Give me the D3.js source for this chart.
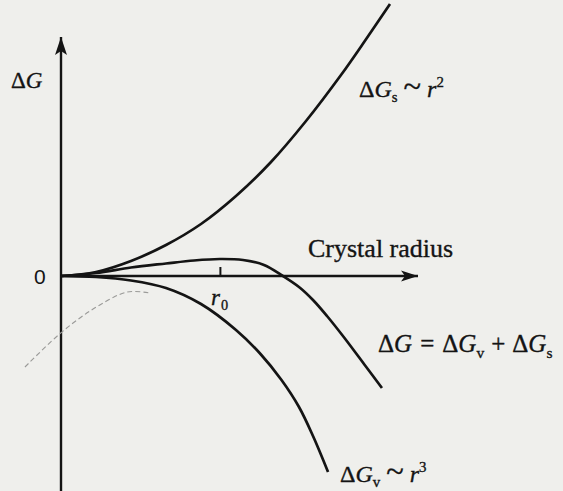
<!DOCTYPE html>
<html>
<head>
<meta charset="utf-8">
<script src="https://cdn.jsdelivr.net/npm/d3@7"></script>
<style>
  html, body { margin: 0; padding: 0; background: #efefec; }
  svg { display: block; }
  .lbl { font-family: "Liberation Serif", "DejaVu Serif", serif; fill: #141414; stroke: #141414; stroke-width: 0.35; }
  .zero { font-family: "Liberation Sans", Arial, sans-serif; fill: #141414; }
</style>
</head>
<body>
<svg id="chart" width="563" height="491"></svg>
<script>
// values: r (crystal radius, arbitrary units), g (free energy change)
const surfaceR = [0, 0.1, 0.2, 0.3, 0.4, 0.5, 0.6, 0.7, 0.8, 0.87, 0.94]
const surfaceG = [0, 0.04, 0.15, 0.31, 0.52, 0.8, 1.14, 1.55, 2.01, 2.36, 2.72]

const volumeR = [0, 0.1, 0.2, 0.3, 0.4, 0.5, 0.57, 0.63, 0.68, 0.72, 0.763]
const volumeG = [0, -0.01, -0.045, -0.12, -0.28, -0.54, -0.78, -1.04, -1.31, -1.6, -1.96]

const totalR = [0, 0.1, 0.2, 0.3, 0.38, 0.454, 0.52, 0.58, 0.634, 0.68, 0.72, 0.76, 0.81, 0.87, 0.917]
const totalG = [0, 0.03, 0.085, 0.125, 0.155, 0.17, 0.16, 0.11, 0.0, -0.11, -0.24, -0.4, -0.62, -0.9, -1.12]

// faint print-through from the other side of the page
const ghostR = [-0.103, -0.017, 0.046, 0.111, 0.189, 0.254]
const ghostG = [-0.91, -0.62, -0.44, -0.29, -0.16, -0.17]

const r0 = 0.454
const xAxisEnd = 1.02
const yAxisTop = 2.39

const svg = d3.select(`#chart`)
const height = 491

const x = d3.scaleLinear().domain([0, 1]).range([61, 411])
const y = d3.scaleLinear().domain([0, 1]).range([276, 176])

const ink = `#141414`

const defs = svg.append(`defs`)
defs.append(`marker`)
  .attr(`id`, `arrowUp`)
  .attr(`markerUnits`, `userSpaceOnUse`)
  .attr(`viewBox`, `-7 0 14 20`)
  .attr(`refX`, 0).attr(`refY`, 0)
  .attr(`markerWidth`, 14).attr(`markerHeight`, 20)
  .attr(`orient`, `0`)
  .append(`path`)
  .attr(`d`, `M0,0 L6,18 L0,14 L-6,18 Z`)
  .attr(`fill`, ink)

defs.append(`marker`)
  .attr(`id`, `arrowRight`)
  .attr(`markerUnits`, `userSpaceOnUse`)
  .attr(`viewBox`, `-18 -6 18 12`)
  .attr(`refX`, 0).attr(`refY`, 0)
  .attr(`markerWidth`, 18).attr(`markerHeight`, 12)
  .attr(`orient`, `0`)
  .append(`path`)
  .attr(`d`, `M0,0 L-17,-5.5 L-13,0 L-17,5.5 Z`)
  .attr(`fill`, ink)

// axes
svg.append(`line`)
  .attr(`x1`, x(0)).attr(`y1`, height)
  .attr(`x2`, x(0)).attr(`y2`, y(yAxisTop))
  .attr(`stroke`, ink).attr(`stroke-width`, 2.4)
  .attr(`marker-end`, `url(#arrowUp)`)

svg.append(`line`)
  .attr(`x1`, x(0)).attr(`y1`, y(0))
  .attr(`x2`, x(xAxisEnd)).attr(`y2`, y(0))
  .attr(`stroke`, ink).attr(`stroke-width`, 2.4)
  .attr(`marker-end`, `url(#arrowRight)`)

const tick = svg.append(`g`)
  .attr(`transform`, `translate(0,${y(0)})`)
  .call(d3.axisBottom(x).tickValues([r0]).tickSize(-9).tickFormat(``))
tick.select(`.domain`).remove()
tick.selectAll(`line`).attr(`stroke`, ink).attr(`stroke-width`, 2)

// curves
const line = d3.line()
  .x((d) => x(d[0]))
  .y((d) => y(d[1]))
  .curve(d3.curveCatmullRom.alpha(0.5))

function draw(rs, gs, opts = {}) {
  svg.append(`path`)
    .attr(`d`, line(d3.zip(rs, gs)))
    .attr(`fill`, `none`)
    .attr(`stroke`, opts.color || ink)
    .attr(`stroke-width`, opts.width || 2.7)
    .attr(`stroke-dasharray`, opts.dash || null)
}

draw(ghostR, ghostG, { color: `#9a9a98`, width: 1.1, dash: `5 3` })
draw(surfaceR, surfaceG)
draw(volumeR, volumeG)
draw(totalR, totalG)

// labels
function label(px, py, parts, size, cls = `lbl`) {
  const t = svg.append(`text`)
    .attr(`class`, cls)
    .attr(`x`, px).attr(`y`, py)
    .attr(`font-size`, size)
  for (const p of parts) {
    const s = t.append(`tspan`).text(p.t)
    if (p.i) s.attr(`font-style`, `italic`)
    if (p.sub) s.attr(`font-size`, size * 0.62).attr(`dy`, size * 0.22)
    if (p.sup) s.attr(`font-size`, size * 0.62).attr(`dy`, -size * 0.4)
    if (p.back) s.attr(`dy`, p.back)
    if (p.big) s.attr(`font-size`, size * p.big)
    if (p.dx) s.attr(`dx`, p.dx)
  }
  return t
}

label(11, 88, [{ t: `Δ` }, { t: `G`, i: true }], 23)
label(34, 284, [{ t: `0` }], 21, `zero`)
label(211, 305, [{ t: `r`, i: true }, { t: `0`, sub: true, dx: 1 }], 23)
label(308, 257, [{ t: `Crystal radius` }], 26)

label(359, 97, [
  { t: `Δ` }, { t: `G`, i: true }, { t: `s`, sub: true },
  { t: `~`, back: -24 * 0.22, big: 1.35, dx: 6 }, { t: `r`, i: true, dx: 6 }, { t: `2`, sup: true }
], 24)

label(378, 352, [
  { t: `Δ` }, { t: `G`, i: true }, { t: `=`, dx: 8 },
  { t: `Δ`, dx: 8 }, { t: `G`, i: true }, { t: `v`, sub: true },
  { t: `+`, back: -25 * 0.22, dx: 7 }, { t: `Δ`, dx: 7 }, { t: `G`, i: true }, { t: `s`, sub: true }
], 25)

label(340, 482, [
  { t: `Δ` }, { t: `G`, i: true }, { t: `v`, sub: true },
  { t: `~`, back: -24 * 0.22, big: 1.35, dx: 6 }, { t: `r`, i: true, dx: 6 }, { t: `3`, sup: true }
], 24)
</script>
</body>
</html>
